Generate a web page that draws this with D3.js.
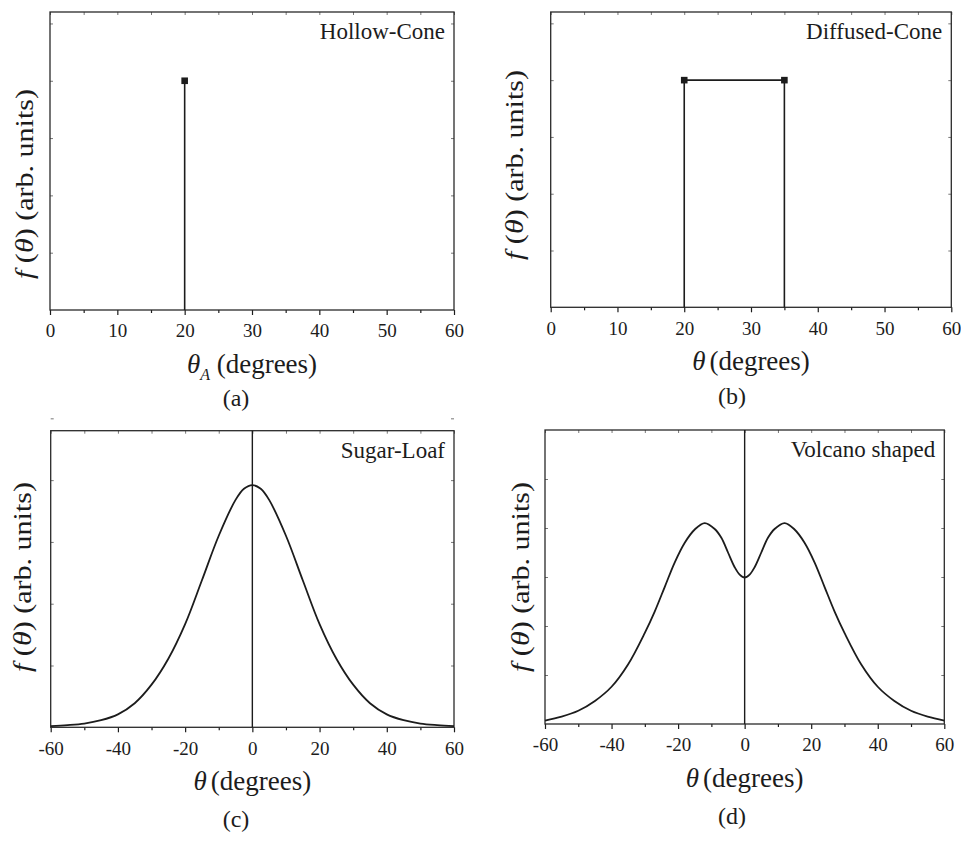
<!DOCTYPE html>
<html lang="en">
<meta charset="UTF-8">
<title>Angular distributions</title>
<script src="https://d3js.org/d3.v7.min.js"></script>
<style>
body { margin: 0; background: #fff; }
</style>
<body>
<div id="chart"></div>
<script>
// ---- data ----
var hollowX = [20];
var hollowY = [4];

var diffusedX = [20, 35];
var diffusedY = [4, 4];

var sugarX = [-60, -55, -50, -45, -40, -35, -30, -25, -20, -15, -10, -5, -2.5, 0,
              2.5, 5, 10, 15, 20, 25, 30, 35, 40, 45, 50, 55, 60];
var sugarY = [0.02, 0.035, 0.06, 0.115, 0.21, 0.39, 0.69, 1.11, 1.67, 2.38, 3.1, 3.68, 3.86, 3.92,
              3.86, 3.68, 3.1, 2.38, 1.67, 1.11, 0.69, 0.39, 0.21, 0.115, 0.06, 0.035, 0.02];

var volcanoX = [-60, -55, -50, -45, -40, -35, -30, -27, -24, -21, -18, -15, -12, -9, -7, -5, -3, -1.5, 0,
                1.5, 3, 5, 7, 9, 12, 15, 18, 21, 24, 27, 30, 35, 40, 45, 50, 55, 60];
var volcanoY = [0.07, 0.15, 0.27, 0.47, 0.76, 1.22, 1.86, 2.3, 2.8, 3.3, 3.7, 3.97, 4.1, 3.98, 3.8, 3.5, 3.2, 3.05, 2.99,
                3.05, 3.2, 3.5, 3.8, 3.98, 4.1, 3.97, 3.7, 3.3, 2.8, 2.3, 1.86, 1.22, 0.76, 0.47, 0.27, 0.15, 0.07];

var coneTicks = [0, 10, 20, 30, 40, 50, 60];
var coneMinor = [5, 15, 25, 35, 45, 55];
var spreadTicks = [-60, -40, -20, 0, 20, 40, 60];
var spreadMinor = [-50, -30, -10, 10, 30, 50];
var yTicks = [1, 2, 3, 4, 5];

var titles = ["Hollow-Cone", "Diffused-Cone", "Sugar-Loaf", "Volcano shaped"];
var tags = ["(a)", "(b)", "(c)", "(d)"];

// ---- layout ----
var svg = d3.select("#chart").append("svg")
    .attr("width", 961)
    .attr("height", 844);

var ink = "#1c1c1c";
var serif = "Liberation Serif";

var panels = [
  {left: 50,    right: 454,   top: 12,    bottom: 310,   xd: [0, 60],   yd: [0, 5.2],
   ticks: coneTicks, minor: coneMinor, title: titles[0], tag: tags[0],
   tagX: 236, tagY: 406, ylabX: 33, ylabY: 184, sub: true},
  {left: 550.7, right: 951.3, top: 12,    bottom: 307.3, xd: [0, 60],   yd: [0, 5.2],
   ticks: coneTicks, minor: coneMinor, title: titles[1], tag: tags[1],
   tagX: 732, tagY: 404, ylabX: 523, ylabY: 165, sub: false},
  {left: 50.7,  right: 454,   top: 430.7, bottom: 727.3, xd: [-60, 60], yd: [0, 4.8],
   ticks: spreadTicks, minor: spreadMinor, title: titles[2], tag: tags[2],
   tagX: 236, tagY: 827, ylabX: 31, ylabY: 577, sub: false},
  {left: 545,   right: 944.3, top: 430,   bottom: 724,   xd: [-60, 60], yd: [0, 6],
   ticks: spreadTicks, minor: spreadMinor, title: titles[3], tag: tags[3],
   tagX: 732, tagY: 824, ylabX: 529, ylabY: 577, sub: false}
];

panels.forEach(function(p) {
  p.x = d3.scaleLinear().domain(p.xd).range([p.left, p.right]);
  p.y = d3.scaleLinear().domain(p.yd).range([p.bottom, p.top]);
  p.g = svg.append("g");
  drawFrame(p);
});

function drawFrame(p) {
  var g = p.g;

  // bottom axis: labelled major ticks + short minor ticks
  g.append("g")
    .attr("transform", "translate(0," + p.bottom + ")")
    .call(d3.axisBottom(p.x).tickValues(p.ticks).tickSize(5).tickPadding(9)
      .tickFormat(function(d) { return d; }))
    .call(function(a) {
      a.select(".domain").remove();
      a.selectAll("line").attr("stroke", ink).attr("stroke-width", 1.2);
      a.selectAll("text").attr("font-family", serif).attr("font-size", 19).attr("fill", ink);
    });
  g.append("g")
    .attr("transform", "translate(0," + p.bottom + ")")
    .call(d3.axisBottom(p.x).tickValues(p.minor).tickSize(3).tickFormat(""))
    .call(function(a) {
      a.select(".domain").remove();
      a.selectAll("line").attr("stroke", ink).attr("stroke-width", 1.2);
    });

  // top axis: small inward ticks
  g.append("g")
    .attr("transform", "translate(0," + p.top + ")")
    .call(d3.axisTop(p.x).tickValues(p.ticks.concat(p.minor)).tickSize(-3).tickFormat(""))
    .call(function(a) {
      a.select(".domain").remove();
      a.selectAll("line").attr("stroke", "#777").attr("stroke-width", 1);
    });

  // left / right axes: inward ticks, no labels
  g.append("g")
    .attr("transform", "translate(" + p.left + ",0)")
    .call(d3.axisLeft(p.y).tickValues(yTicks).tickSize(-3).tickFormat(""))
    .call(function(a) {
      a.select(".domain").remove();
      a.selectAll("line").attr("stroke", "#777").attr("stroke-width", 1);
    });
  g.append("g")
    .attr("transform", "translate(" + p.right + ",0)")
    .call(d3.axisRight(p.y).tickValues(yTicks).tickSize(-3).tickFormat(""))
    .call(function(a) {
      a.select(".domain").remove();
      a.selectAll("line").attr("stroke", "#777").attr("stroke-width", 1);
    });

  // frame
  g.append("rect")
    .attr("x", p.left).attr("y", p.top)
    .attr("width", p.right - p.left).attr("height", p.bottom - p.top)
    .attr("fill", "none").attr("stroke", "#2a2a2a").attr("stroke-width", 1.3);

  // title in the corner
  g.append("text")
    .attr("x", p.right - 9).attr("y", p.top + 27)
    .attr("text-anchor", "end")
    .attr("font-family", serif).attr("font-size", 23).attr("fill", ink)
    .text(p.title);

  // x axis label
  var xl = g.append("text")
    .attr("x", (p.left + p.right) / 2).attr("y", p.bottom + 63)
    .attr("text-anchor", "middle")
    .attr("font-family", serif).attr("font-size", 27).attr("fill", ink);
  xl.append("tspan").attr("font-style", "italic").text("\u03b8");
  if (p.sub) {
    xl.append("tspan").attr("font-style", "italic").attr("font-size", 16)
      .attr("dy", 7).text("A");
    xl.append("tspan").attr("dy", -7).text(" (degrees)");
  } else {
    xl.append("tspan").attr("dx", 4).text("(degrees)");
  }

  // y axis label (the source figure is a bit stretched vertically)
  var yl = g.append("text")
    .attr("transform", "translate(" + p.ylabX + "," + p.ylabY + ") rotate(-90)")
    .attr("text-anchor", "middle")
    .attr("font-family", serif).attr("font-size", 25).attr("fill", ink)
    .attr("textLength", 190).attr("lengthAdjust", "spacingAndGlyphs");
  yl.append("tspan").attr("font-style", "italic").text("f");
  yl.append("tspan").text(" (");
  yl.append("tspan").attr("font-style", "italic").text("\u03b8");
  yl.append("tspan").text(") (arb. units)");

  // panel tag
  g.append("text")
    .attr("x", p.tagX).attr("y", p.tagY)
    .attr("text-anchor", "middle")
    .attr("font-family", serif).attr("font-size", 24).attr("fill", ink)
    .text(p.tag);
}

// ---- marks ----
var a = panels[0], b = panels[1], c = panels[2], d = panels[3];

function stems(p, xs, ys) {
  p.g.selectAll(null).data(xs).enter().append("line")
    .attr("x1", function(v) { return p.x(v); })
    .attr("x2", function(v) { return p.x(v); })
    .attr("y1", p.y(0))
    .attr("y2", function(v, i) { return p.y(ys[i]); })
    .attr("stroke", ink).attr("stroke-width", 1.6);
}
function squares(p, xs, ys) {
  p.g.selectAll(null).data(xs).enter().append("rect")
    .attr("x", function(v) { return p.x(v) - 3.3; })
    .attr("y", function(v, i) { return p.y(ys[i]) - 3.3; })
    .attr("width", 6.6).attr("height", 6.6)
    .attr("fill", ink);
}

// (a) hollow cone: single spike
stems(a, hollowX, hollowY);
squares(a, hollowX, hollowY);

// (b) diffused cone: box between two angles
stems(b, diffusedX, diffusedY);
b.g.append("path")
  .datum(diffusedX.map(function(v, i) { return [v, diffusedY[i]]; }))
  .attr("fill", "none").attr("stroke", ink).attr("stroke-width", 1.6)
  .attr("d", d3.line().x(function(q) { return b.x(q[0]); }).y(function(q) { return b.y(q[1]); }));
squares(b, diffusedX, diffusedY);

// (c) and (d): smooth curves with the vertical line at 0
[[c, sugarX, sugarY], [d, volcanoX, volcanoY]].forEach(function(s) {
  var p = s[0];
  p.g.append("line")
    .attr("x1", p.x(0)).attr("x2", p.x(0))
    .attr("y1", p.top).attr("y2", p.bottom)
    .attr("stroke", ink).attr("stroke-width", 1.4);
  p.g.append("path")
    .datum(s[1].map(function(v, i) { return [v, s[2][i]]; }))
    .attr("fill", "none").attr("stroke", ink).attr("stroke-width", 1.8)
    .attr("d", d3.line().curve(d3.curveCatmullRom.alpha(0.5))
      .x(function(q) { return p.x(q[0]); })
      .y(function(q) { return p.y(q[1]); }));
});
</script>
</body>
</html>
